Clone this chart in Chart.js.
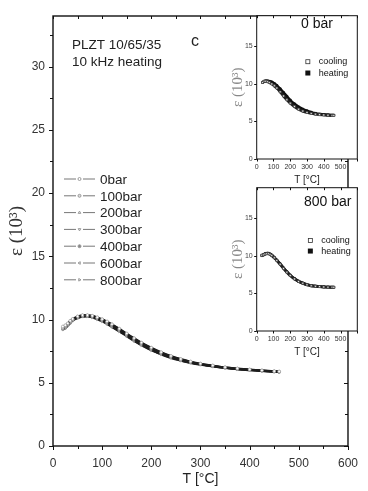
<!DOCTYPE html>
<html>
<head>
<meta charset="utf-8">
<script src="https://cdn.jsdelivr.net/npm/chart.js@4.4.1/dist/chart.umd.min.js"></script>
<style>
  html, body { margin: 0; padding: 0; background: #fff; }
  #wrap { position: relative; width: 368px; height: 491px; }
  canvas { position: absolute; }
  #main-chart { left: 0; top: 0; }
  #inset-0 { left: 215px; top: 0; }
  #inset-800 { left: 215px; top: 172px; }
</style>
</head>
<body>
<div id="wrap">
  <canvas id="main-chart" width="368" height="491"></canvas>
  <canvas id="inset-0" width="153" height="190"></canvas>
  <canvas id="inset-800" width="153" height="190"></canvas>
</div>
<script>
// MAIN PLOT DATA (T in °C, epsilon in 10^3)

const pressures = ["0bar", "100bar", "200bar", "300bar", "400bar", "600bar", "800bar"];

const temps = [20, 25, 30, 35, 40, 50, 60, 70, 80, 90, 100, 110, 120, 135, 150, 165, 180, 200, 220, 240, 260, 280, 300, 325, 350, 375, 400, 425, 450, 460];

const eps0 = [9.45, 9.55, 9.7, 9.9, 10.05, 10.25, 10.35, 10.35, 10.3, 10.18, 10.03, 9.85, 9.63, 9.28, 8.9, 8.53, 8.18, 7.78, 7.42, 7.12, 6.88, 6.68, 6.52, 6.37, 6.23, 6.13, 6.05, 5.98, 5.92, 5.89];
const eps100 = [9.35, 9.5, 9.65, 9.85, 10.02, 10.22, 10.32, 10.33, 10.28, 10.15, 10.0, 9.82, 9.6, 9.24, 8.86, 8.49, 8.14, 7.74, 7.38, 7.09, 6.85, 6.66, 6.5, 6.35, 6.22, 6.12, 6.04, 5.97, 5.91, 5.88];
const eps200 = [9.3, 9.42, 9.62, 9.8, 10.0, 10.2, 10.3, 10.3, 10.25, 10.12, 9.97, 9.78, 9.56, 9.2, 8.82, 8.45, 8.1, 7.7, 7.35, 7.05, 6.82, 6.63, 6.48, 6.33, 6.2, 6.1, 6.03, 5.96, 5.9, 5.87];
const eps300 = [9.28, 9.38, 9.58, 9.77, 9.97, 10.17, 10.28, 10.28, 10.22, 10.09, 9.93, 9.74, 9.52, 9.16, 8.78, 8.41, 8.06, 7.66, 7.32, 7.02, 6.8, 6.61, 6.46, 6.31, 6.19, 6.09, 6.02, 5.95, 5.89, 5.86];
const eps400 = [9.25, 9.35, 9.55, 9.75, 9.95, 10.15, 10.26, 10.27, 10.2, 10.06, 9.9, 9.7, 9.48, 9.12, 8.74, 8.37, 8.02, 7.62, 7.29, 7.0, 6.78, 6.6, 6.45, 6.3, 6.18, 6.08, 6.01, 5.94, 5.88, 5.85];
const eps600 = [9.22, 9.32, 9.52, 9.72, 9.92, 10.12, 10.24, 10.25, 10.18, 10.03, 9.87, 9.67, 9.44, 9.08, 8.7, 8.33, 7.98, 7.58, 7.26, 6.97, 6.76, 6.58, 6.43, 6.29, 6.17, 6.07, 6.0, 5.93, 5.87, 5.84];
const eps800 = [9.2, 9.3, 9.5, 9.7, 9.9, 10.1, 10.22, 10.23, 10.15, 10.0, 9.84, 9.63, 9.4, 9.04, 8.66, 8.29, 7.94, 7.55, 7.23, 6.95, 6.74, 6.56, 6.42, 6.28, 6.16, 6.06, 5.99, 5.92, 5.86, 5.83];

const xTicks = [0, 100, 200, 300, 400, 500, 600];
const yTicks = [0, 5, 10, 15, 20, 25, 30];

// INSET DATA

const insetTemps0 = [35, 45, 55, 65, 75, 90, 105, 120, 140, 160, 180, 200, 225, 250, 275, 300, 325, 350, 375, 400, 425, 450, 460];
const heating0 = [10.15, 10.3, 10.35, 10.35, 10.3, 10.2, 10.0, 9.75, 9.3, 8.8, 8.3, 7.8, 7.3, 6.9, 6.6, 6.38, 6.2, 6.05, 5.95, 5.9, 5.85, 5.8, 5.8];
const cooling0 = [10.15, 10.3, 10.3, 10.25, 10.15, 9.95, 9.7, 9.4, 8.9, 8.35, 7.85, 7.4, 6.95, 6.6, 6.35, 6.17, 6.04, 5.95, 5.88, 5.84, 5.8, 5.78, 5.78];

const insetTemps800 = [30, 40, 50, 60, 70, 80, 90, 105, 120, 140, 160, 180, 200, 225, 250, 275, 300, 325, 350, 375, 400, 425, 450, 460];
const heating800 = [10.0, 10.1, 10.25, 10.3, 10.3, 10.2, 10.05, 9.75, 9.4, 8.9, 8.35, 7.85, 7.4, 6.95, 6.6, 6.35, 6.15, 6.02, 5.95, 5.9, 5.85, 5.82, 5.8, 5.8];
const cooling800 = [10.05, 10.1, 10.2, 10.25, 10.25, 10.15, 10.0, 9.7, 9.35, 8.85, 8.3, 7.8, 7.35, 6.9, 6.57, 6.33, 6.13, 6.0, 5.93, 5.88, 5.84, 5.81, 5.79, 5.79];

const insetXTicks = [0, 100, 200, 300, 400, 500];
const insetYTicks = [0, 5, 10, 15];

// HELPERS

const toPoints = (xs, ys) => xs.map((x, i) => ({ x: x, y: ys[i] }));

// draws the frame and the little tick marks on all four sides
const frameTicks = {
  id: "frameTicks",
  beforeDraw(chart, args, o) {
    const { ctx, chartArea: a } = chart;
    if (o.fill) {
      ctx.save();
      ctx.fillStyle = "#fff";
      ctx.fillRect(a.left, a.top, a.width, a.height);
      ctx.restore();
    }
  },
  afterDraw(chart, args, o) {
    const { ctx, chartArea: a, scales } = chart;
    const xs = scales.x, ys = scales.y;
    ctx.save();
    ctx.strokeStyle = "#111";
    ctx.lineWidth = 1;
    ctx.beginPath();
    for (let v = xs.min; v <= xs.max + 1e-6; v += o.xStep) {
      const p = Math.round(xs.getPixelForValue(v)) + 0.5;
      const major = Math.abs(v / o.xMajor - Math.round(v / o.xMajor)) < 1e-6;
      const len = major ? o.major : o.minor;
      if (o.bottom) { ctx.moveTo(p, a.bottom); ctx.lineTo(p, a.bottom + len); }
      if (o.top) { ctx.moveTo(p, a.top); ctx.lineTo(p, a.top + o.minor); }
    }
    for (let v = ys.min; v <= ys.max + 1e-6; v += o.yStep) {
      const p = Math.round(ys.getPixelForValue(v)) + 0.5;
      const major = Math.abs(v / o.yMajor - Math.round(v / o.yMajor)) < 1e-6;
      const len = major ? o.major : o.minor;
      if (o.left) { ctx.moveTo(a.left, p); ctx.lineTo(a.left - len, p); }
      if (o.right) { ctx.moveTo(a.right, p); ctx.lineTo(a.right - len, p); }
    }
    ctx.stroke();
    ctx.lineWidth = o.frame;
    ctx.strokeRect(a.left, a.top, a.width, a.height);
    ctx.restore();
  }
};

// MAIN CHART

const mainStyles = [
  { pointStyle: "circle", rotation: 0, fill: "#fff" },
  { pointStyle: "circle", rotation: 0, fill: "#ddd" },
  { pointStyle: "triangle", rotation: 0, fill: "#fff" },
  { pointStyle: "triangle", rotation: 180, fill: "#fff" },
  { pointStyle: "circle", rotation: 0, fill: "#888" },
  { pointStyle: "triangle", rotation: -90, fill: "#fff" },
  { pointStyle: "triangle", rotation: 90, fill: "#fff" },
];
const mainSeries = [eps0, eps100, eps200, eps300, eps400, eps600, eps800];

const mainLabels = {
  id: "mainLabels",
  afterDraw(chart) {
    const { ctx, chartArea: a } = chart;
    ctx.save();
    ctx.fillStyle = "#222";
    ctx.textBaseline = "middle";
    ctx.font = "13.5px Arial, 'Liberation Sans', sans-serif";
    ctx.fillText("PLZT 10/65/35", a.left + 19, a.top + 29);
    ctx.fillText("10 kHz heating", a.left + 19, a.top + 46);
    ctx.font = "16px Arial, 'Liberation Sans', sans-serif";
    ctx.fillText("c", a.left + 138, a.top + 26);

    // legend
    ctx.font = "13.5px Arial, 'Liberation Sans', sans-serif";
    pressures.forEach((name, i) => {
      const y = 179 + i * 16.8;
      ctx.strokeStyle = "#777";
      ctx.lineWidth = 1;
      ctx.beginPath();
      ctx.moveTo(64, y); ctx.lineTo(76, y);
      ctx.moveTo(83, y); ctx.lineTo(95, y);
      ctx.stroke();
      const s = mainStyles[i];
      ctx.fillStyle = s.fill;
      ctx.strokeStyle = "#999";
      Chart.helpers.drawPoint(ctx, {
        pointStyle: s.pointStyle, rotation: s.rotation, radius: 1.5, borderWidth: 0.8
      }, 79.5, y);
      ctx.fillStyle = "#222";
      ctx.fillText(name, 100, y + 1);
    });
    ctx.restore();
  }
};

new Chart(document.querySelector("#main-chart"), {
  type: "scatter",
  data: {
    datasets: mainSeries.map((vals, i) => ({
      label: pressures[i],
      data: toPoints(temps, vals),
      showLine: true,
      borderColor: "#1e1e1e",
      borderWidth: 1.8,
      tension: 0.3,
      pointStyle: mainStyles[i].pointStyle,
      rotation: mainStyles[i].rotation,
      pointRadius: 1.4,
      pointBorderWidth: 0.7,
      pointBorderColor: "#999",
      pointBackgroundColor: mainStyles[i].fill,
    })),
  },
  options: {
    responsive: false,
    animation: false,
    layout: { padding: { left: 0, right: 11, top: 16, bottom: 0 } },
    plugins: {
      legend: { display: false },
      tooltip: { enabled: false },
      frameTicks: {
        xStep: 50, xMajor: 100, yStep: 2.5, yMajor: 5,
        major: 4, minor: 3, frame: 1.4,
        left: true, bottom: true, top: true, right: true, fill: false,
      },
    },
    scales: {
      x: {
        type: "linear", min: 0, max: 600,
        afterBuildTicks: (s) => { s.ticks = xTicks.map((v) => ({ value: v })); },
        afterFit: (s) => { s.height = 45; },
        grid: { display: false, drawTicks: false },
        border: { display: false },
        ticks: { padding: 10, color: "#333", font: { family: "Arial", size: 12 } },
        title: {
          display: true, text: "T [°C]", color: "#222",
          font: { family: "Arial", size: 14 }, padding: { top: 0, bottom: 3 },
        },
      },
      y: {
        min: 0, max: 34,
        afterBuildTicks: (s) => { s.ticks = yTicks.map((v) => ({ value: v })); },
        afterFit: (s) => { s.width = 53; },
        grid: { display: false, drawTicks: false },
        border: { display: false },
        ticks: { padding: 8, color: "#333", font: { family: "Arial", size: 12 } },
        title: {
          display: true, text: "ε (10³)", color: "#333",
          font: { family: "'Liberation Serif', 'DejaVu Serif', serif", size: 19 },
          padding: { top: 6, bottom: 0 },
        },
      },
    },
  },
  plugins: [frameTicks, mainLabels],
});

// INSETS

function insetChart(id, title, xs, cooling, heating) {
  const insetLabels = {
    id: "insetLabels",
    afterDraw(chart) {
      const { ctx, scales: { x, y } } = chart;
      ctx.save();
      ctx.fillStyle = "#111";
      ctx.textBaseline = "middle";
      ctx.textAlign = "right";
      ctx.font = "14px Arial, 'Liberation Sans', sans-serif";
      ctx.fillText(title, x.getPixelForValue(title === "0 bar" ? 455 : 565), y.getPixelForValue(title === "0 bar" ? 17.9 : 17.1));
      ctx.textAlign = "left";
      ctx.font = "9px Arial, 'Liberation Sans', sans-serif";
      const ly1 = title === "0 bar" ? 12.9 : 12.0;
      const ly2 = title === "0 bar" ? 11.4 : 10.6;
      const mx = x.getPixelForValue(title === "0 bar" ? 305 : 320);
      ctx.strokeStyle = "#333";
      ctx.lineWidth = 0.8;
      ctx.fillStyle = "#fff";
      ctx.fillRect(mx - 2, y.getPixelForValue(ly1) - 2, 4, 4);
      ctx.strokeRect(mx - 2, y.getPixelForValue(ly1) - 2, 4, 4);
      ctx.fillStyle = "#111";
      ctx.fillRect(mx - 2.5, y.getPixelForValue(ly2) - 2.5, 5, 5);
      ctx.fillText("cooling", mx + 11, y.getPixelForValue(ly1));
      ctx.fillText("heating", mx + 11, y.getPixelForValue(ly2));
      ctx.restore();
    }
  };

  return new Chart(document.querySelector(id), {
    type: "scatter",
    data: {
      datasets: [
        {
          label: "cooling",
          data: toPoints(xs, cooling),
          showLine: true, borderColor: "#222", borderWidth: 2.8, tension: 0.3,
          pointStyle: "rect", pointRadius: 1.4, pointBorderWidth: 0.7,
          pointBorderColor: "#333", pointBackgroundColor: "#fff",
        },
        {
          label: "heating",
          data: toPoints(xs, heating),
          showLine: true, borderColor: "#111", borderWidth: 2.8, tension: 0.3,
          pointStyle: "rect", pointRadius: 1.4, pointBorderWidth: 0.7,
          pointBorderColor: "#111", pointBackgroundColor: "#111",
        },
      ],
    },
    options: {
      responsive: false,
      animation: false,
      layout: { padding: { left: 0, right: 10.7, top: 15.7, bottom: 0 } },
      plugins: {
        legend: { display: false },
        tooltip: { enabled: false },
        frameTicks: {
          xStep: 100, xMajor: 100, yStep: 5, yMajor: 5,
          major: 2.5, minor: 2.5, frame: 1,
          left: true, bottom: true, top: true, right: false, fill: true,
        },
      },
      scales: {
        x: {
          type: "linear", min: 0, max: 600,
          afterBuildTicks: (s) => { s.ticks = insetXTicks.map((v) => ({ value: v })); },
          afterFit: (s) => { s.height = 31; },
          grid: { display: false, drawTicks: false },
          border: { display: false },
          ticks: { padding: 4, color: "#333", font: { family: "Arial", size: 7 } },
          title: {
            display: true, text: "T [°C]", color: "#222",
            font: { family: "Arial", size: 10 }, padding: { top: 0, bottom: 4 },
          },
        },
        y: {
          min: 0, max: 19,
          afterBuildTicks: (s) => { s.ticks = insetYTicks.map((v) => ({ value: v })); },
          afterFit: (s) => { s.width = 41.7; },
          grid: { display: false, drawTicks: false },
          border: { display: false },
          ticks: { padding: 4, color: "#444", font: { family: "Arial", size: 7 } },
          title: {
            display: true, text: "ε (10³)", color: "#888",
            font: { family: "'Liberation Serif', 'DejaVu Serif', serif", size: 15 },
            padding: { top: 14, bottom: 0 },
          },
        },
      },
    },
    plugins: [frameTicks, insetLabels],
  });
}

insetChart("#inset-0", "0 bar", insetTemps0, cooling0, heating0);
insetChart("#inset-800", "800 bar", insetTemps800, cooling800, heating800);
</script>
</body>
</html>
